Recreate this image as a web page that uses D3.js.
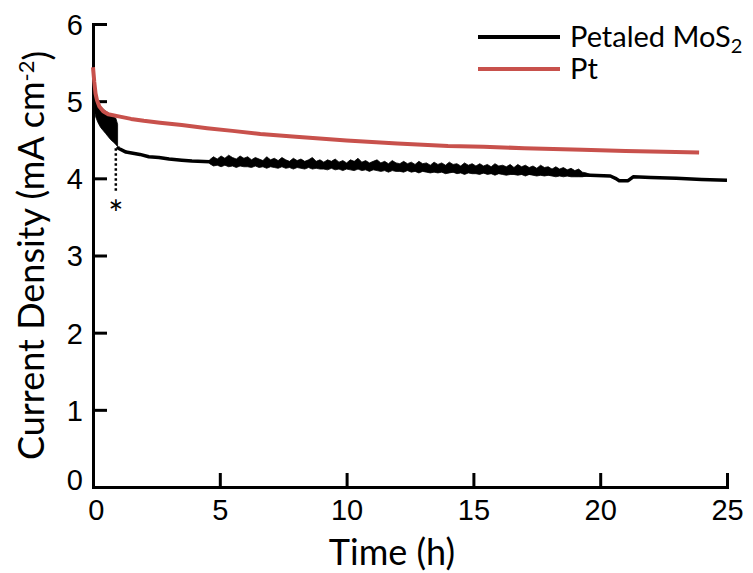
<!DOCTYPE html>
<html>
<head>
<meta charset="utf-8">
<script src="https://cdn.jsdelivr.net/npm/d3@7/dist/d3.min.js"></script>
<style>
  body { margin: 0; background: #fff; }
  svg { display: block; font-family: Lato, "Open Sans", sans-serif; }
</style>
</head>
<body>
<div class="chart"></div>
<script>
// 資料
const xTicks = [0, 5, 10, 15, 20, 25]
const yTicks = [0, 1, 2, 3, 4, 5, 6]

// Pt
const ptTime = [0, 0.05, 0.1, 0.16, 0.25, 0.4, 0.6, 1.06, 1.5, 2.0, 2.64, 3.5, 4.5, 5.5, 6.6, 8, 10, 12, 14, 15.4, 17, 19.3, 21, 22.5, 23.9]
const ptCurrent = [5.44, 5.25, 5.1, 5.01, 4.93, 4.87, 4.83, 4.8, 4.77, 4.745, 4.72, 4.69, 4.65, 4.615, 4.575, 4.54, 4.49, 4.45, 4.42, 4.41, 4.39, 4.37, 4.355, 4.345, 4.335]

// Petaled MoS2, smooth part
const mosTime = [0.97, 1.0, 1.3, 1.85, 2.2, 2.6, 3.0, 3.5, 3.9, 4.6, 6, 8, 10, 12, 14, 16, 18, 19.6, 20.4, 20.6, 20.75, 21.1, 21.3, 22, 23, 24, 25]
const mosCurrent = [4.41, 4.39, 4.34, 4.31, 4.28, 4.27, 4.25, 4.235, 4.225, 4.215, 4.205, 4.18, 4.155, 4.13, 4.1, 4.08, 4.06, 4.04, 4.03, 4.0, 3.97, 3.97, 4.02, 4.01, 4.0, 3.985, 3.975]

// Petaled MoS2, noisy start (envelope)
const earlyTime = [0, 0.1, 0.2, 0.3, 0.4, 0.5, 0.6, 0.7, 0.8, 0.9, 0.97]
const earlyHigh = [5.2, 5.05, 4.97, 4.93, 4.9, 4.87, 4.85, 4.83, 4.8, 4.78, 4.7]
const earlyLow = [5.0, 4.8, 4.72, 4.66, 4.62, 4.58, 4.54, 4.5, 4.47, 4.44, 4.41]

// Petaled MoS2, noisy middle (envelope, every 0.15 h)
const noiseTime = [
  4.6, 4.75, 4.9, 5.05, 5.2, 5.35, 5.5, 5.65, 5.8, 5.95,
  6.1, 6.25, 6.4, 6.55, 6.7, 6.85, 7.0, 7.15, 7.3, 7.45,
  7.6, 7.75, 7.9, 8.05, 8.2, 8.35, 8.5, 8.65, 8.8, 8.95,
  9.1, 9.25, 9.4, 9.55, 9.7, 9.85, 10.0, 10.15, 10.3, 10.45,
  10.6, 10.75, 10.9, 11.05, 11.2, 11.35, 11.5, 11.65, 11.8, 11.95,
  12.1, 12.25, 12.4, 12.55, 12.7, 12.85, 13.0, 13.15, 13.3, 13.45,
  13.6, 13.75, 13.9, 14.05, 14.2, 14.35, 14.5, 14.65, 14.8, 14.95,
  15.1, 15.25, 15.4, 15.55, 15.7, 15.85, 16.0, 16.15, 16.3, 16.45,
  16.6, 16.75, 16.9, 17.05, 17.2, 17.35, 17.5, 17.65, 17.8, 17.95,
  18.1, 18.25, 18.4, 18.55, 18.7, 18.85, 19.0, 19.15, 19.3, 19.45, 19.6]
const noiseHigh = [
  4.24, 4.28, 4.25, 4.29, 4.26, 4.3, 4.27, 4.25, 4.29, 4.26,
  4.28, 4.24, 4.27, 4.25, 4.23, 4.28, 4.24, 4.26, 4.23, 4.27,
  4.24, 4.22, 4.26, 4.23, 4.25, 4.22, 4.24, 4.27, 4.22, 4.24,
  4.21, 4.24, 4.22, 4.25, 4.21, 4.23, 4.2, 4.24, 4.22, 4.26,
  4.21, 4.23, 4.2, 4.22, 4.24, 4.2, 4.22, 4.19, 4.23, 4.2,
  4.19, 4.22, 4.19, 4.21, 4.18, 4.22, 4.19, 4.2, 4.17, 4.21,
  4.18, 4.2, 4.17, 4.21, 4.18, 4.19, 4.16, 4.2, 4.17, 4.19,
  4.16, 4.19, 4.16, 4.18, 4.15, 4.19, 4.16, 4.17, 4.15, 4.18,
  4.14, 4.18, 4.15, 4.17, 4.14, 4.16, 4.13, 4.17, 4.14, 4.15,
  4.12, 4.15, 4.12, 4.14, 4.11, 4.13, 4.1, 4.12, 4.08, 4.07, 4.05]
const noiseLow = [
  4.19, 4.16, 4.17, 4.15, 4.17, 4.15, 4.16, 4.14, 4.16, 4.15,
  4.15, 4.14, 4.16, 4.14, 4.15, 4.13, 4.15, 4.14, 4.13, 4.15,
  4.13, 4.14, 4.12, 4.14, 4.13, 4.12, 4.14, 4.12, 4.13, 4.12,
  4.12, 4.11, 4.13, 4.11, 4.12, 4.1, 4.12, 4.11, 4.1, 4.12,
  4.1, 4.11, 4.09, 4.11, 4.1, 4.09, 4.1, 4.08, 4.1, 4.09,
  4.09, 4.08, 4.1, 4.08, 4.09, 4.07, 4.09, 4.08, 4.07, 4.08,
  4.07, 4.08, 4.06, 4.07, 4.08, 4.06, 4.07, 4.05, 4.07, 4.06,
  4.06, 4.05, 4.07, 4.05, 4.06, 4.04, 4.06, 4.05, 4.04, 4.05,
  4.05, 4.04, 4.05, 4.03, 4.05, 4.04, 4.03, 4.04, 4.03, 4.04,
  4.03, 4.02, 4.03, 4.02, 4.03, 4.02, 4.02, 4.02, 4.02, 4.03, 4.03]

// asterisk marker
const markTime = 0.9
const markTop = 4.39
const markBottom = 3.81
const markStar = 3.63

const seriesNames = ["Petaled MoS", "Pt"]
const seriesColors = ["#000000", "#c8514c"]

function chart() {
  const svgWidth = 753
  const svgHeight = 573
  const svg = d3.select('.chart')
    .append('svg')
    .attr('width', svgWidth)
    .attr('height', svgHeight)

  const xScale = d3.scaleLinear().domain([0, 25]).range([93, 727])
  const yScale = d3.scaleLinear().domain([0, 6]).range([487, 24])

  // X 軸
  const xAxis = d3.axisBottom(xScale)
    .tickValues(xTicks)
    .tickFormat(d3.format('d'))
    .tickSize(-14)
    .tickSizeOuter(0)
    .tickPadding(12)
  const gx = svg.append('g')
    .attr('transform', `translate(0, ${yScale(0)})`)
    .call(xAxis)

  // Y 軸
  const yAxis = d3.axisLeft(yScale)
    .tickValues(yTicks)
    .tickFormat(d3.format('d'))
    .tickSize(-14)
    .tickSizeOuter(0)
    .tickPadding(10)
  const gy = svg.append('g')
    .attr('transform', `translate(${xScale(0)}, 0)`)
    .call(yAxis)

  for (const g of [gx, gy]) {
    g.select('.domain').attr('stroke', '#000').attr('stroke-width', 3).attr('stroke-linecap', 'square')
    g.selectAll('.tick line').attr('stroke', '#000').attr('stroke-width', 3)
    g.selectAll('.tick text').attr('fill', '#000').style('font-size', '29px')
  }
  gy.selectAll('.tick text').attr('dy', '0.36em')
  gy.selectAll('.tick').filter(d => d === 0).select('text').attr('dy', '0.1em')
  gx.selectAll('.tick').filter(d => d === 0).select('text').attr('dx', '0.1em')

  // noisy bands
  const band = d3.area()
    .x(d => xScale(d[0]))
    .y0(d => yScale(d[2]))
    .y1(d => yScale(d[1]))
  const early = earlyTime.map((t, i) => [t, earlyHigh[i], earlyLow[i]])
  const noisy = noiseTime.map((t, i) => [t, noiseHigh[i], noiseLow[i]])
  for (const b of [early, noisy]) {
    svg.append('path')
      .attr('d', band(b))
      .attr('fill', '#000')
      .attr('stroke', '#000')
      .attr('stroke-width', 0.8)
  }

  const line = d3.line()
    .x(d => xScale(d[0]))
    .y(d => yScale(d[1]))

  svg.append('path')
    .attr('d', line(mosTime.map((t, i) => [t, mosCurrent[i]])))
    .attr('fill', 'none')
    .attr('stroke', seriesColors[0])
    .attr('stroke-width', 3.5)
    .attr('stroke-linejoin', 'round')

  svg.append('path')
    .attr('d', line(ptTime.map((t, i) => [t, ptCurrent[i]])))
    .attr('fill', 'none')
    .attr('stroke', seriesColors[1])
    .attr('stroke-width', 4)
    .attr('stroke-linejoin', 'round')

  // dotted marker and asterisk
  svg.append('line')
    .attr('x1', xScale(markTime)).attr('x2', xScale(markTime))
    .attr('y1', yScale(markTop)).attr('y2', yScale(markBottom))
    .attr('stroke', '#000')
    .attr('stroke-width', 2.5)
    .attr('stroke-dasharray', '2.5,2.5')
  svg.append('text')
    .attr('x', xScale(markTime))
    .attr('y', yScale(markStar))
    .attr('dy', '0.55em')
    .attr('text-anchor', 'middle')
    .style('font-size', '36px')
    .text('*')

  // axis titles
  svg.append('text')
    .attr('x', 392)
    .attr('y', 565)
    .attr('text-anchor', 'middle')
    .style('font-size', '36px')
    .text('Time (h)')

  const yTitle = svg.append('text')
    .attr('transform', `translate(44, ${(yScale(0) + yScale(6)) / 2}) rotate(-90)`)
    .attr('text-anchor', 'middle')
    .style('font-size', '36px')
  yTitle.append('tspan').text('Current Density (mA cm')
  yTitle.append('tspan').attr('dy', '-0.45em').style('font-size', '22px').text('-2')
  yTitle.append('tspan').attr('dy', '0.45em').text(')')

  // legend
  const legend = svg.append('g')
  seriesNames.forEach((name, i) => {
    const y = 37 + i * 32
    legend.append('line')
      .attr('x1', 478).attr('x2', 560)
      .attr('y1', y).attr('y2', y)
      .attr('stroke', seriesColors[i])
      .attr('stroke-width', 4)
    const t = legend.append('text')
      .attr('x', 570)
      .attr('y', y)
      .attr('dy', '0.35em')
      .style('font-size', '29px')
    t.append('tspan').text(name)
    if (i === 0) {
      t.append('tspan').attr('dy', '0.3em').style('font-size', '20px').text('2')
    }
  })
}

chart()
</script>
</body>
</html>
